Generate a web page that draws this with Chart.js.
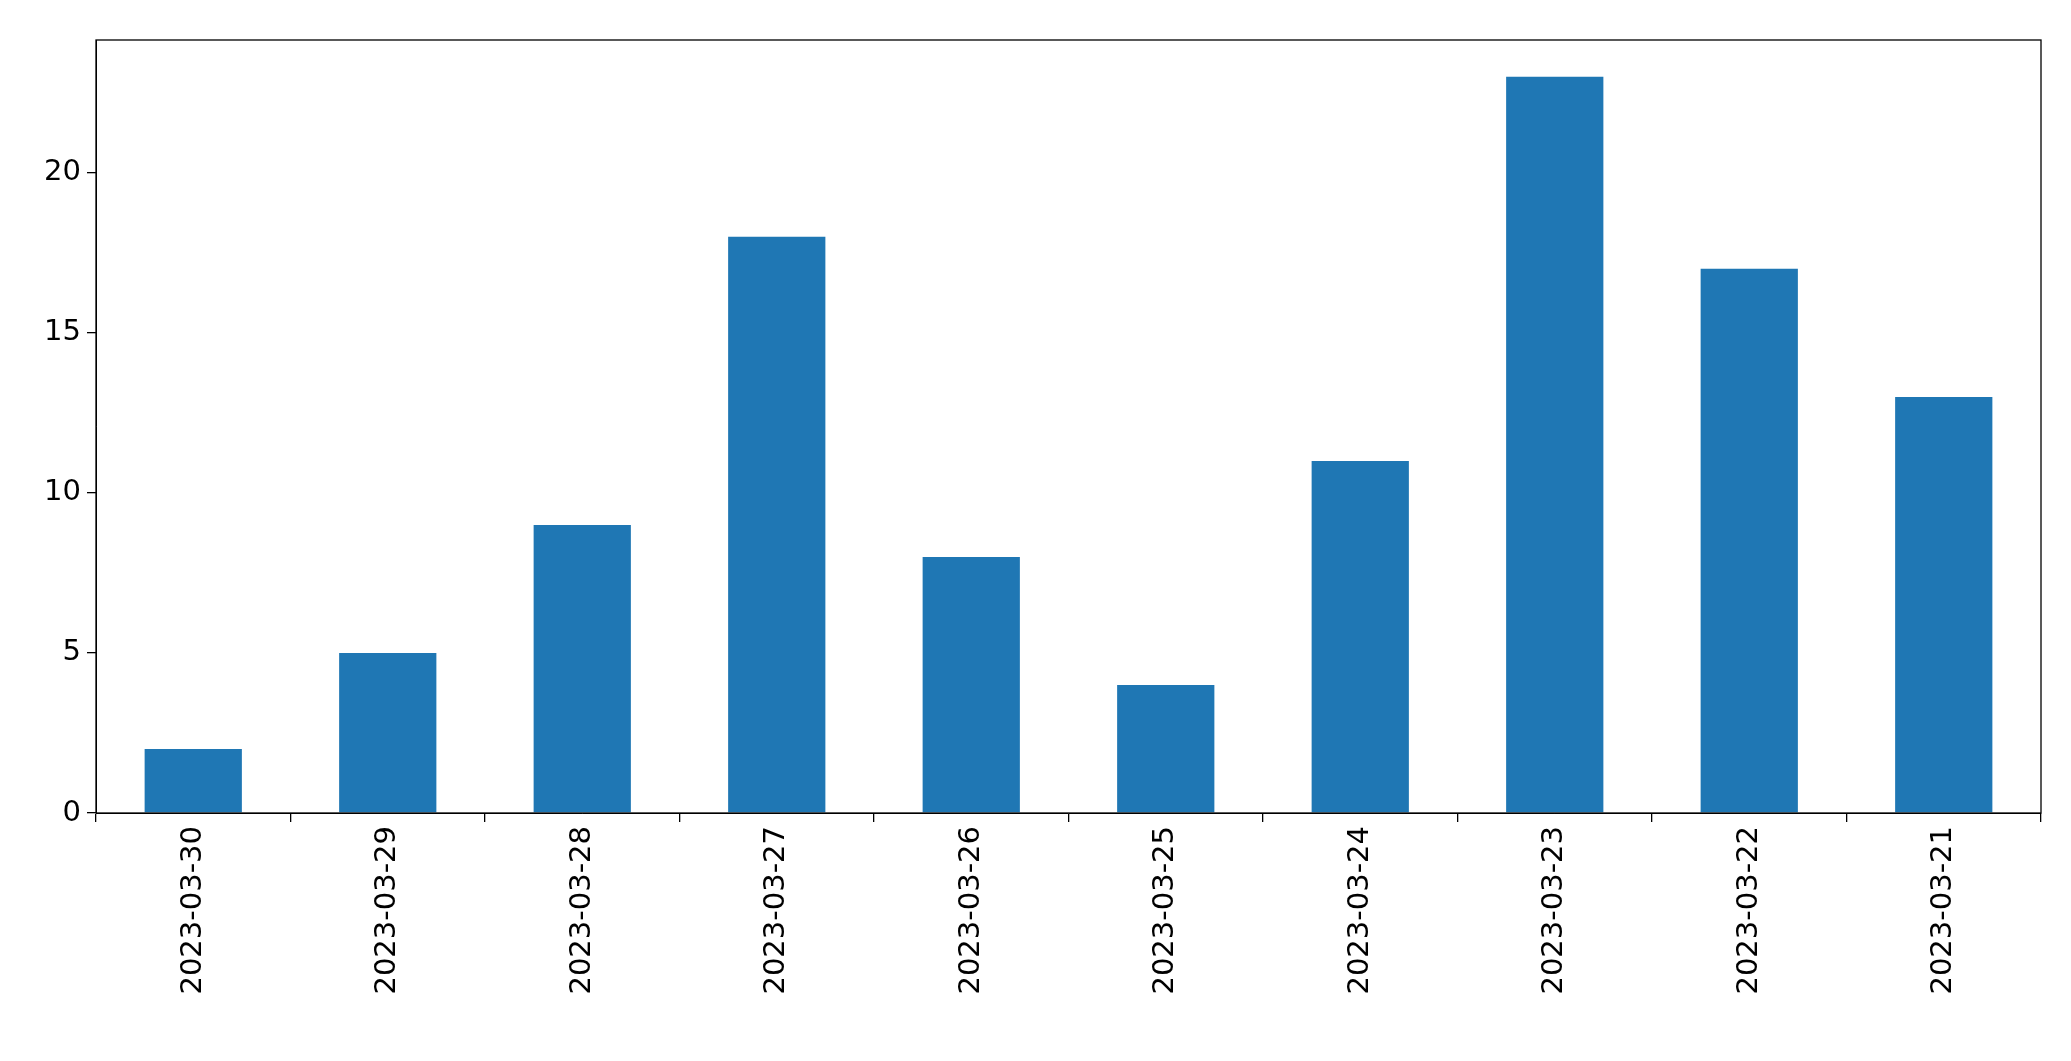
<!DOCTYPE html>
<html>
<head>
<meta charset="UTF-8">
<script src="https://cdn.jsdelivr.net/npm/chart.js"></script>
<style>
  body { margin: 0; background: #fff; }
  #wrap { width: 2071px; height: 1061px; }
</style>
</head>
<body>
<div id="wrap"><canvas id="c" width="2071" height="1061"></canvas></div>
<script>
const dates = ['2023-03-30','2023-03-29','2023-03-28','2023-03-27','2023-03-26',
               '2023-03-25','2023-03-24','2023-03-23','2023-03-22','2023-03-21'];
const counts = [2, 5, 9, 18, 8, 4, 11, 23, 17, 13];
const yTicks = [0, 5, 10, 15, 20];

// frame around the plot area, like the matplotlib axes box
const frame = {
  id: 'frame',
  afterDraw(chart) {
    const a = chart.chartArea, ctx = chart.ctx;
    ctx.save();
    ctx.strokeStyle = '#000';
    ctx.lineWidth = 1.3;
    ctx.strokeRect(a.left, a.top, a.right - a.left, a.bottom - a.top);
    ctx.restore();
  }
};

const font = { family: 'DejaVu Sans', size: 29 };

new Chart(document.getElementById('c'), {
  type: 'bar',
  data: {
    labels: dates,
    datasets: [{ data: counts, backgroundColor: '#1f77b4', categoryPercentage: 1, barPercentage: 0.5 }]
  },
  options: {
    responsive: false,
    animation: false,
    layout: { padding: { top: 40, right: 30, left: 0, bottom: 0 } },
    plugins: { legend: { display: false }, tooltip: { enabled: false } },
    scales: {
      x: {
        grid: { display: true, drawOnChartArea: false, tickLength: 9, color: '#000', lineWidth: 1.3 },
        border: { color: '#000' },
        ticks: { color: '#000', font, minRotation: 90, maxRotation: 90, padding: 4 },
        afterFit: s => { s.height = 248; }
      },
      y: {
        min: 0, max: 24.15,
        afterBuildTicks: s => { s.ticks = yTicks.map(v => ({ value: v })); },
        grid: { display: true, drawOnChartArea: false, tickLength: 9, color: '#000', lineWidth: 1.3 },
        border: { color: '#000' },
        ticks: { color: '#000', font, padding: 6 },
        afterFit: s => { s.width = 96; }
      }
    }
  },
  plugins: [frame]
});
</script>
</body>
</html>
